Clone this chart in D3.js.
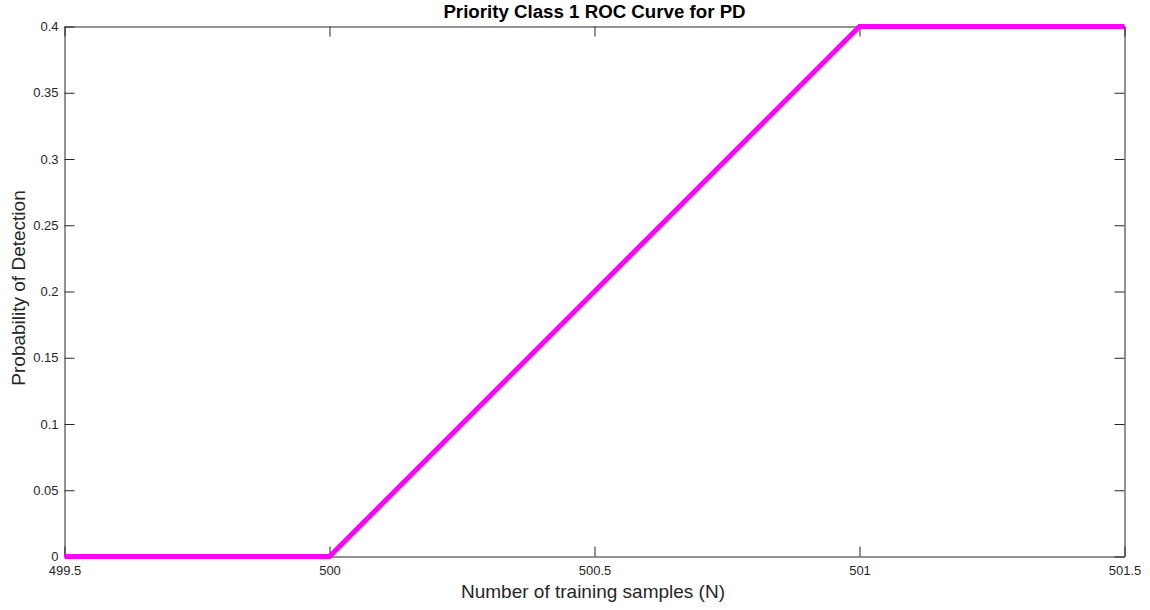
<!DOCTYPE html>
<html>
<head>
<meta charset="utf-8">
<script src="https://cdn.jsdelivr.net/npm/d3@7"></script>
<style>
  html, body { margin: 0; padding: 0; background: #fff; }
  svg { display: block; font-family: "Liberation Sans", Arial, Helvetica, sans-serif; }
</style>
</head>
<body>
<svg id="chart" width="1150" height="610"></svg>
<script>
// Training-sample counts and the detection probability at each
const samples = [499.5, 500, 501, 501.5];
const detection = [0, 0, 0.4, 0.4];
const xTicks = [499.5, 500, 500.5, 501, 501.5];
const yTicks = [0, 0.05, 0.1, 0.15, 0.2, 0.25, 0.3, 0.35, 0.4];

const titleText = "Priority Class 1 ROC Curve for PD";
const xLabel = "Number of training samples (N)";
const yLabel = "Probability of Detection";

const svg = d3.select("#chart");
const m = { left: 64.5, top: 26.5, right: 1124.5, bottom: 556.5 };

const x = d3.scaleLinear().domain([499.5, 501.5]).range([m.left, m.right]);
const y = d3.scaleLinear().domain([0, 0.4]).range([m.bottom, m.top]);

const axisColor = "#262626";
const tickLen = 10;

// Bottom and left axes with inward ticks
const gx = svg.append("g").attr("transform", `translate(0,${m.bottom})`)
  .call(d3.axisBottom(x).tickValues(xTicks).tickFormat(d3.format("")).tickSizeInner(-tickLen).tickSizeOuter(0).tickPadding(9));
const gy = svg.append("g").attr("transform", `translate(${m.left},0)`)
  .call(d3.axisLeft(y).tickValues(yTicks).tickFormat(d3.format("")).tickSizeInner(-tickLen).tickSizeOuter(0).tickPadding(6));
// Mirrored ticks on top and right
const gxt = svg.append("g").attr("transform", `translate(0,${m.top})`)
  .call(d3.axisTop(x).tickValues(xTicks).tickFormat("").tickSizeInner(-tickLen).tickSizeOuter(0));
const gyr = svg.append("g").attr("transform", `translate(${m.right},0)`)
  .call(d3.axisRight(y).tickValues(yTicks).tickFormat("").tickSizeInner(-tickLen).tickSizeOuter(0));

[gx, gy, gxt, gyr].forEach(g => {
  g.selectAll("path.domain").attr("stroke", axisColor).attr("stroke-width", 1);
  g.selectAll(".tick line").attr("stroke", axisColor).attr("stroke-width", 1);
  g.selectAll(".tick text").attr("fill", axisColor).attr("font-size", 13)
    .attr("font-family", "Liberation Sans, Arial, sans-serif");
});

// Curve
const line = d3.line().x((d, i) => x(samples[i])).y(d => y(d));
svg.append("path")
  .datum(detection)
  .attr("d", line)
  .attr("fill", "none")
  .attr("stroke", "#ff00ff")
  .attr("stroke-width", 5)
  .attr("stroke-linejoin", "miter");

// Title and axis labels
svg.append("text")
  .attr("x", (m.left + m.right) / 2).attr("y", 17.5)
  .attr("text-anchor", "middle")
  .attr("font-size", 18.7).attr("font-weight", "bold").attr("fill", "#000")
  .text(titleText);

svg.append("text")
  .attr("x", 593).attr("y", 598)
  .attr("text-anchor", "middle")
  .attr("font-size", 19).attr("fill", axisColor)
  .text(xLabel);

svg.append("text")
  .attr("transform", `translate(25,288) rotate(-90)`)
  .attr("text-anchor", "middle")
  .attr("font-size", 19).attr("fill", axisColor)
  .text(yLabel);
</script>
</body>
</html>
